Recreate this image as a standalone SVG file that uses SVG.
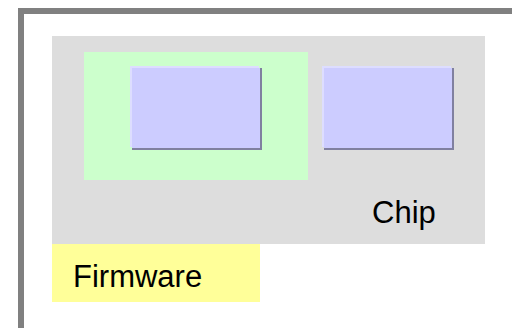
<svg xmlns="http://www.w3.org/2000/svg" width="512" height="328" viewBox="0 0 512 328">
  <style>
    .lbl { font-family: "Liberation Sans", Arial, sans-serif; font-size: 31px; fill: #000000; }
    .hi { fill: #ddddff; }
    .sh { fill: #8080a0; }
    .box { fill: #ccccff; }
  </style>
  <rect width="512" height="328" fill="#ffffff"/>
  <g id="frame">
    <rect x="21" y="11" width="600" height="600" fill="none" stroke="#808080" stroke-width="6"/>
  </g>
  <g id="chip">
    <rect x="52" y="36" width="433" height="208" fill="#dddddd"/>
    <text class="lbl" x="372" y="222.5">Chip</text>
  </g>
  <g id="green-area">
    <rect x="84" y="52" width="224" height="128" fill="#ccffcc"/>
  </g>
  <g id="block1">
    <rect class="sh" x="132" y="68" width="130" height="82"/>
    <rect class="hi" x="130" y="66" width="129" height="81"/>
    <rect class="box" x="132" y="68" width="128" height="80"/>
  </g>
  <g id="block2">
    <rect class="sh" x="324" y="68" width="130" height="82"/>
    <rect class="hi" x="322" y="66" width="129" height="81"/>
    <rect class="box" x="324" y="68" width="128" height="80"/>
  </g>
  <g id="firmware">
    <rect x="52" y="244" width="208" height="58" fill="#ffff99"/>
    <text class="lbl" x="73" y="286.5">Firmware</text>
  </g>
  <g id="connectors"/>
</svg>
